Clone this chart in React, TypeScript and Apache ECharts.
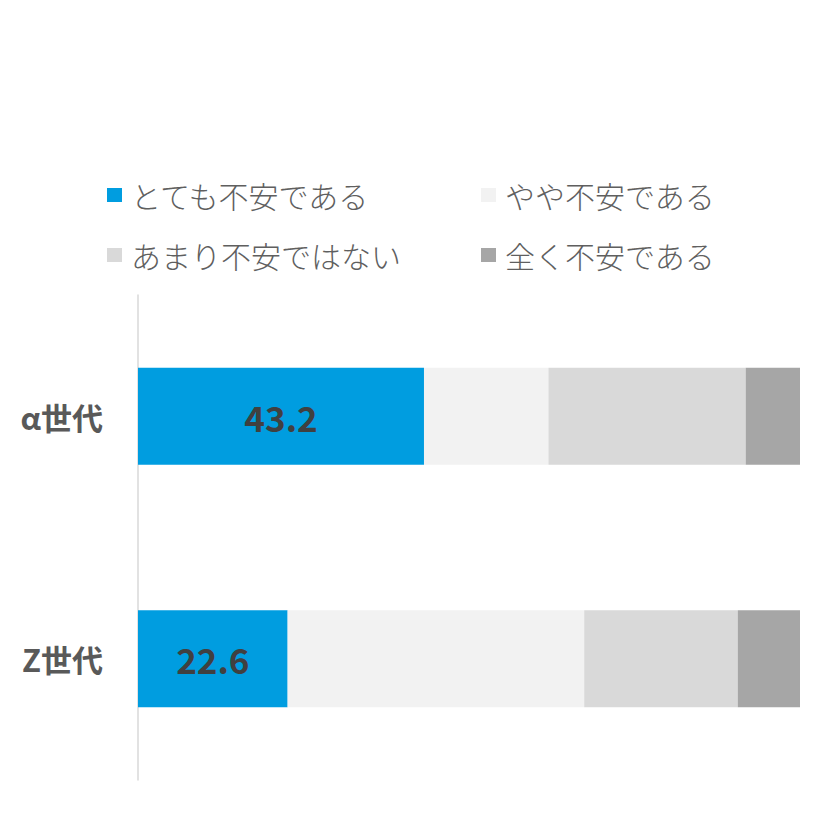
import React, { useEffect, useRef } from 'react';
import * as echarts from 'echarts';

// 世代ごとの不安度（%）
const categories = ['α世代', 'Z世代'];
const seriesNames = ['とても不安である', 'やや不安である', 'あまり不安ではない', '全く不安である'];
const veryAnxious = [43.2, 22.6];
const somewhatAnxious = [18.8, 44.8];
const notVeryAnxious = [29.8, 23.2];
const notAtAll = [8.2, 9.4];
const colors = ['#009de0', '#f2f2f2', '#d9d9d9', '#a6a6a6'];

const FONT = '"Noto Sans CJK JP", "Noto Sans", sans-serif';

const App: React.FC = () => {
  const chartRef = useRef<HTMLDivElement>(null);

  useEffect(() => {
    if (!chartRef.current) return;
    const chart = echarts.init(chartRef.current, null, { renderer: 'svg' });

    const values = [veryAnxious, somewhatAnxious, notVeryAnxious, notAtAll];

    const legendText = {
      fontFamily: FONT,
      fontSize: 30,
      fontWeight: 300,
      color: '#5f5f5f',
      lineHeight: 40,
      padding: [0, 0, 0, 4],
    };

    const legendBase = {
      orient: 'vertical',
      top: 170,
      itemWidth: 15,
      itemHeight: 14,
      itemGap: 20,
      icon: 'rect',
      textStyle: legendText,
      selectedMode: false,
    };

    const option = {
      animation: false,
      color: colors,
      legend: [
        { ...legendBase, left: 102, data: [seriesNames[0], seriesNames[2]] },
        { ...legendBase, left: 476, data: [seriesNames[1], seriesNames[3]] },
      ],
      grid: {
        left: 138,
        right: 40,
        top: 295,
        bottom: 43,
        containLabel: false,
      },
      xAxis: {
        type: 'value',
        min: 0,
        max: 100,
        show: false,
      },
      yAxis: {
        type: 'category',
        inverse: true,
        data: categories,
        axisLine: { show: true, lineStyle: { color: '#d9d9d9', width: 1.5 } },
        axisTick: { show: false },
        axisLabel: {
          margin: 35,
          fontFamily: FONT,
          fontSize: 31,
          fontWeight: 'bold',
          color: '#595959',
        },
      },
      series: values.map((data, i) => ({
        name: seriesNames[i],
        type: 'bar',
        stack: 'total',
        barWidth: 97,
        data,
        itemStyle: { color: colors[i] },
        label:
          i === 0
            ? {
                show: true,
                position: 'inside',
                fontFamily: FONT,
                fontSize: 35,
                fontWeight: 'bold',
                color: '#404040',
                formatter: (p: any) => p.value.toFixed(1),
              }
            : { show: false },
      })),
    };

    chart.setOption(option);

    return () => {
      chart.dispose();
    };
  }, []);

  return (
    <div
      ref={chartRef}
      style={{ position: 'fixed', left: 0, top: 0, width: 840, height: 823, background: '#fff' }}
    />
  );
};

export default App;
